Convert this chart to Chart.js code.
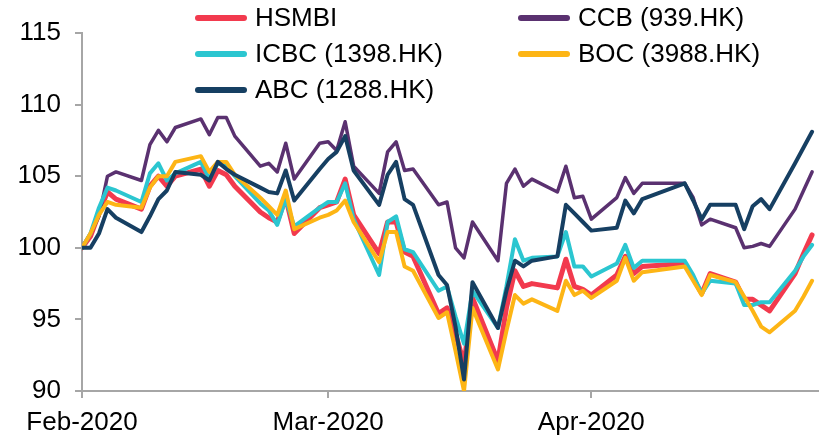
<!DOCTYPE html>
<html>
<head>
<meta charset="utf-8">
<script src="https://cdn.jsdelivr.net/npm/chart.js@4"></script>
<style>
  html, body { margin: 0; padding: 0; background: #fff; }
  #wrap { position: relative; width: 819px; height: 435px; overflow: hidden; }
  #legend {
    position: absolute; left: 195px; top: 1px;
    display: grid; grid-template-columns: 323px 260px; row-gap: 3px;
    font-family: "Liberation Sans", Arial, sans-serif; font-size: 26px; color: #000;
  }
  .item { display: flex; align-items: center; height: 33px; white-space: nowrap; }
  .swatch { display: inline-block; width: 52px; height: 6px; border-radius: 3px; margin-right: 8px; }
</style>
</head>
<body>
<div id="wrap">
  <canvas id="chart" width="819" height="435"></canvas>
  <div id="legend"></div>
</div>
<script>
// trading days, first point = 3 Feb 2020
const dates = [
  "2020-02-03","2020-02-04","2020-02-05","2020-02-06","2020-02-07",
  "2020-02-10","2020-02-11","2020-02-12","2020-02-13","2020-02-14",
  "2020-02-17","2020-02-18","2020-02-19","2020-02-20","2020-02-21",
  "2020-02-24","2020-02-25","2020-02-26","2020-02-27","2020-02-28",
  "2020-03-02","2020-03-03","2020-03-04","2020-03-05","2020-03-06",
  "2020-03-09","2020-03-10","2020-03-11","2020-03-12","2020-03-13",
  "2020-03-16","2020-03-17","2020-03-18","2020-03-19","2020-03-20",
  "2020-03-23","2020-03-24","2020-03-25","2020-03-26","2020-03-27",
  "2020-03-30","2020-03-31","2020-04-01","2020-04-02","2020-04-03",
  "2020-04-06","2020-04-07","2020-04-08","2020-04-09",
  "2020-04-14","2020-04-15","2020-04-16","2020-04-17",
  "2020-04-20","2020-04-21","2020-04-22","2020-04-23","2020-04-24",
  "2020-04-27","2020-04-28","2020-04-29"
];

const hsmbi = [100.0, 100.8, 102.4, 103.9, 103.4, 102.7, 104.3, 105.0, 104.3, 105.0,
  105.5, 104.3, 105.4, 105.1, 104.3, 102.5, 102.1, 101.8, 103.5, 101.0,
  102.8, 103.0, 103.2, 104.8, 102.3, 99.6, 101.8, 101.8, 99.7, 99.4,
  95.4, 95.8, 94.0, 91.9, 96.5, 92.1, 95.8, 98.4, 97.3, 97.5,
  97.2, 99.2, 97.3, 97.1, 96.7, 98.1, 99.4, 98.2, 98.7,
  98.9, 97.9, 96.8, 98.2, 97.6, 96.4, 96.4, 96.0, 95.6,
  98.2, 99.6, 100.9];

const ccb = [100.0, 101.0, 102.2, 105.0, 105.3, 104.7, 107.2, 108.2, 107.4, 108.4,
  109.0, 107.9, 109.1, 109.1, 107.8, 105.7, 105.9, 105.3, 107.3, 104.8,
  107.3, 107.4, 106.8, 108.8, 105.7, 103.8, 106.7, 107.4, 105.4, 105.5,
  103.0, 103.2, 100.0, 99.3, 101.8, 99.1, 104.5, 105.5, 104.3, 104.8,
  103.9, 105.7, 103.5, 103.6, 102.0, 103.5, 104.9, 103.8, 104.5,
  104.5, 103.5, 101.6, 102.0, 101.4, 100.0, 100.1, 100.3, 100.1,
  102.7, 104.0, 105.3];

const icbc = [100.0, 101.0, 102.8, 104.2, 104.0, 103.2, 105.2, 105.9, 104.7, 105.2,
  106.0, 104.8, 105.9, 105.7, 105.0, 103.1, 102.6, 101.6, 103.4, 101.5,
  102.8, 103.2, 103.2, 104.5, 102.0, 98.1, 101.8, 102.2, 99.9, 99.7,
  97.0, 97.3, 95.2, 93.3, 97.0, 94.4, 97.3, 100.6, 99.1, 99.3,
  99.4, 101.1, 98.7, 98.7, 98.0, 98.9, 100.2, 98.6, 99.1,
  99.1, 98.1, 96.8, 97.7, 97.5, 96.0, 96.0, 96.2, 96.2,
  98.4, 99.4, 100.2];

const boc = [100.0, 101.0, 102.3, 103.2, 103.0, 102.8, 104.2, 105.0, 105.0, 106.0,
  106.4, 105.3, 106.0, 106.0, 105.1, 103.5, 102.9, 102.3, 104.0, 101.3,
  102.1, 102.3, 102.6, 103.3, 101.8, 99.0, 101.1, 101.1, 98.7, 98.4,
  95.1, 95.5, 92.8, 90.0, 95.8, 91.5, 94.2, 96.7, 96.1, 96.4,
  95.6, 97.7, 96.7, 97.0, 96.5, 97.7, 99.3, 97.7, 98.3,
  98.7, 97.7, 96.7, 98.1, 97.6, 96.6, 95.6, 94.5, 94.1,
  95.6, 96.6, 97.7];

const abc = [100.0, 100.0, 101.0, 102.7, 102.1, 101.1, 102.2, 103.4, 104.0, 105.3,
  105.1, 104.7, 106.0, 105.5, 105.1, 104.2, 103.9, 103.8, 105.4, 103.3,
  105.5, 106.2, 106.7, 107.8, 105.4, 103.0, 105.1, 106.0, 103.4, 103.0,
  98.1, 97.4, 94.5, 90.8, 97.6, 94.4, 97.0, 99.1, 98.7, 99.1,
  99.4, 103.0, 102.4, 101.8, 101.2, 101.4, 103.3, 102.4, 103.4,
  104.5, 103.3, 102.0, 103.0, 103.0, 101.3, 102.9, 103.4, 102.7,
  105.9, 107.0, 108.1];

const monthTicks = ["2020-02-03", "2020-03-03", "2020-04-03"];
const monthLabels = ["Feb-2020", "Mar-2020", "Apr-2020"];
const yTicks = [90, 95, 100, 105, 110, 115];

const DAY = 864e5;
const start = Date.parse(dates[0]);
const dayNum = d => (Date.parse(d) - start) / DAY;
const xs = dates.map(dayNum);
const tickDays = monthTicks.map(dayNum);

const series = [
  { label: "HSMBI", values: hsmbi, color: "#F23A4E", width: 5, order: 5 },
  { label: "CCB (939.HK)", values: ccb, color: "#5A3170", width: 3.5, order: 4 },
  { label: "ICBC (1398.HK)", values: icbc, color: "#2BC6D0", width: 4, order: 3 },
  { label: "BOC (3988.HK)", values: boc, color: "#FDB515", width: 4, order: 2 },
  { label: "ABC (1288.HK)", values: abc, color: "#163F62", width: 4, order: 1 }
];

const font = { family: "'Liberation Sans', Arial, sans-serif", size: 26 };
const axisGrey = "#A6A6A6";

new Chart(document.getElementById("chart"), {
  type: "line",
  data: {
    datasets: series.map(s => ({
      label: s.label,
      data: s.values.map((v, i) => ({ x: xs[i], y: v })),
      borderColor: s.color,
      borderWidth: s.width,
      pointRadius: 0,
      tension: 0,
      fill: false,
      order: s.order,
      borderJoinStyle: "round",
      borderCapStyle: "round"
    }))
  },
  options: {
    responsive: false,
    animation: false,
    layout: { padding: { top: 33, right: 1, left: 0, bottom: 0 } },
    plugins: { legend: { display: false }, tooltip: { enabled: false } },
    scales: {
      x: {
        type: "linear",
        min: 0,
        max: 86.7,
        afterBuildTicks: axis => { axis.ticks = tickDays.map(v => ({ value: v })); },
        afterFit: axis => { axis.height = 44; },
        ticks: {
          color: "#000",
          font: font,
          padding: 9,
          maxRotation: 0,
          autoSkip: false,
          callback: (v, i) => monthLabels[i]
        },
        grid: { drawOnChartArea: false, drawTicks: true, tickLength: 7, color: axisGrey, lineWidth: 2 },
        border: { color: axisGrey, width: 2 }
      },
      y: {
        min: 90,
        max: 115,
        afterBuildTicks: axis => { axis.ticks = yTicks.map(v => ({ value: v })); },
        afterFit: axis => { axis.width = 82; },
        ticks: { color: "#000", font: font, padding: 14 },
        grid: { drawOnChartArea: false, drawTicks: true, tickLength: 7, color: axisGrey, lineWidth: 2 },
        border: { color: axisGrey, width: 2 }
      }
    }
  }
});

// two-column legend, row-wise like the original
const legend = document.getElementById("legend");
series.forEach(s => {
  const item = document.createElement("div");
  item.className = "item";
  const sw = document.createElement("span");
  sw.className = "swatch";
  sw.style.background = s.color;
  item.appendChild(sw);
  item.appendChild(document.createTextNode(s.label));
  legend.appendChild(item);
});
</script>
</body>
</html>
